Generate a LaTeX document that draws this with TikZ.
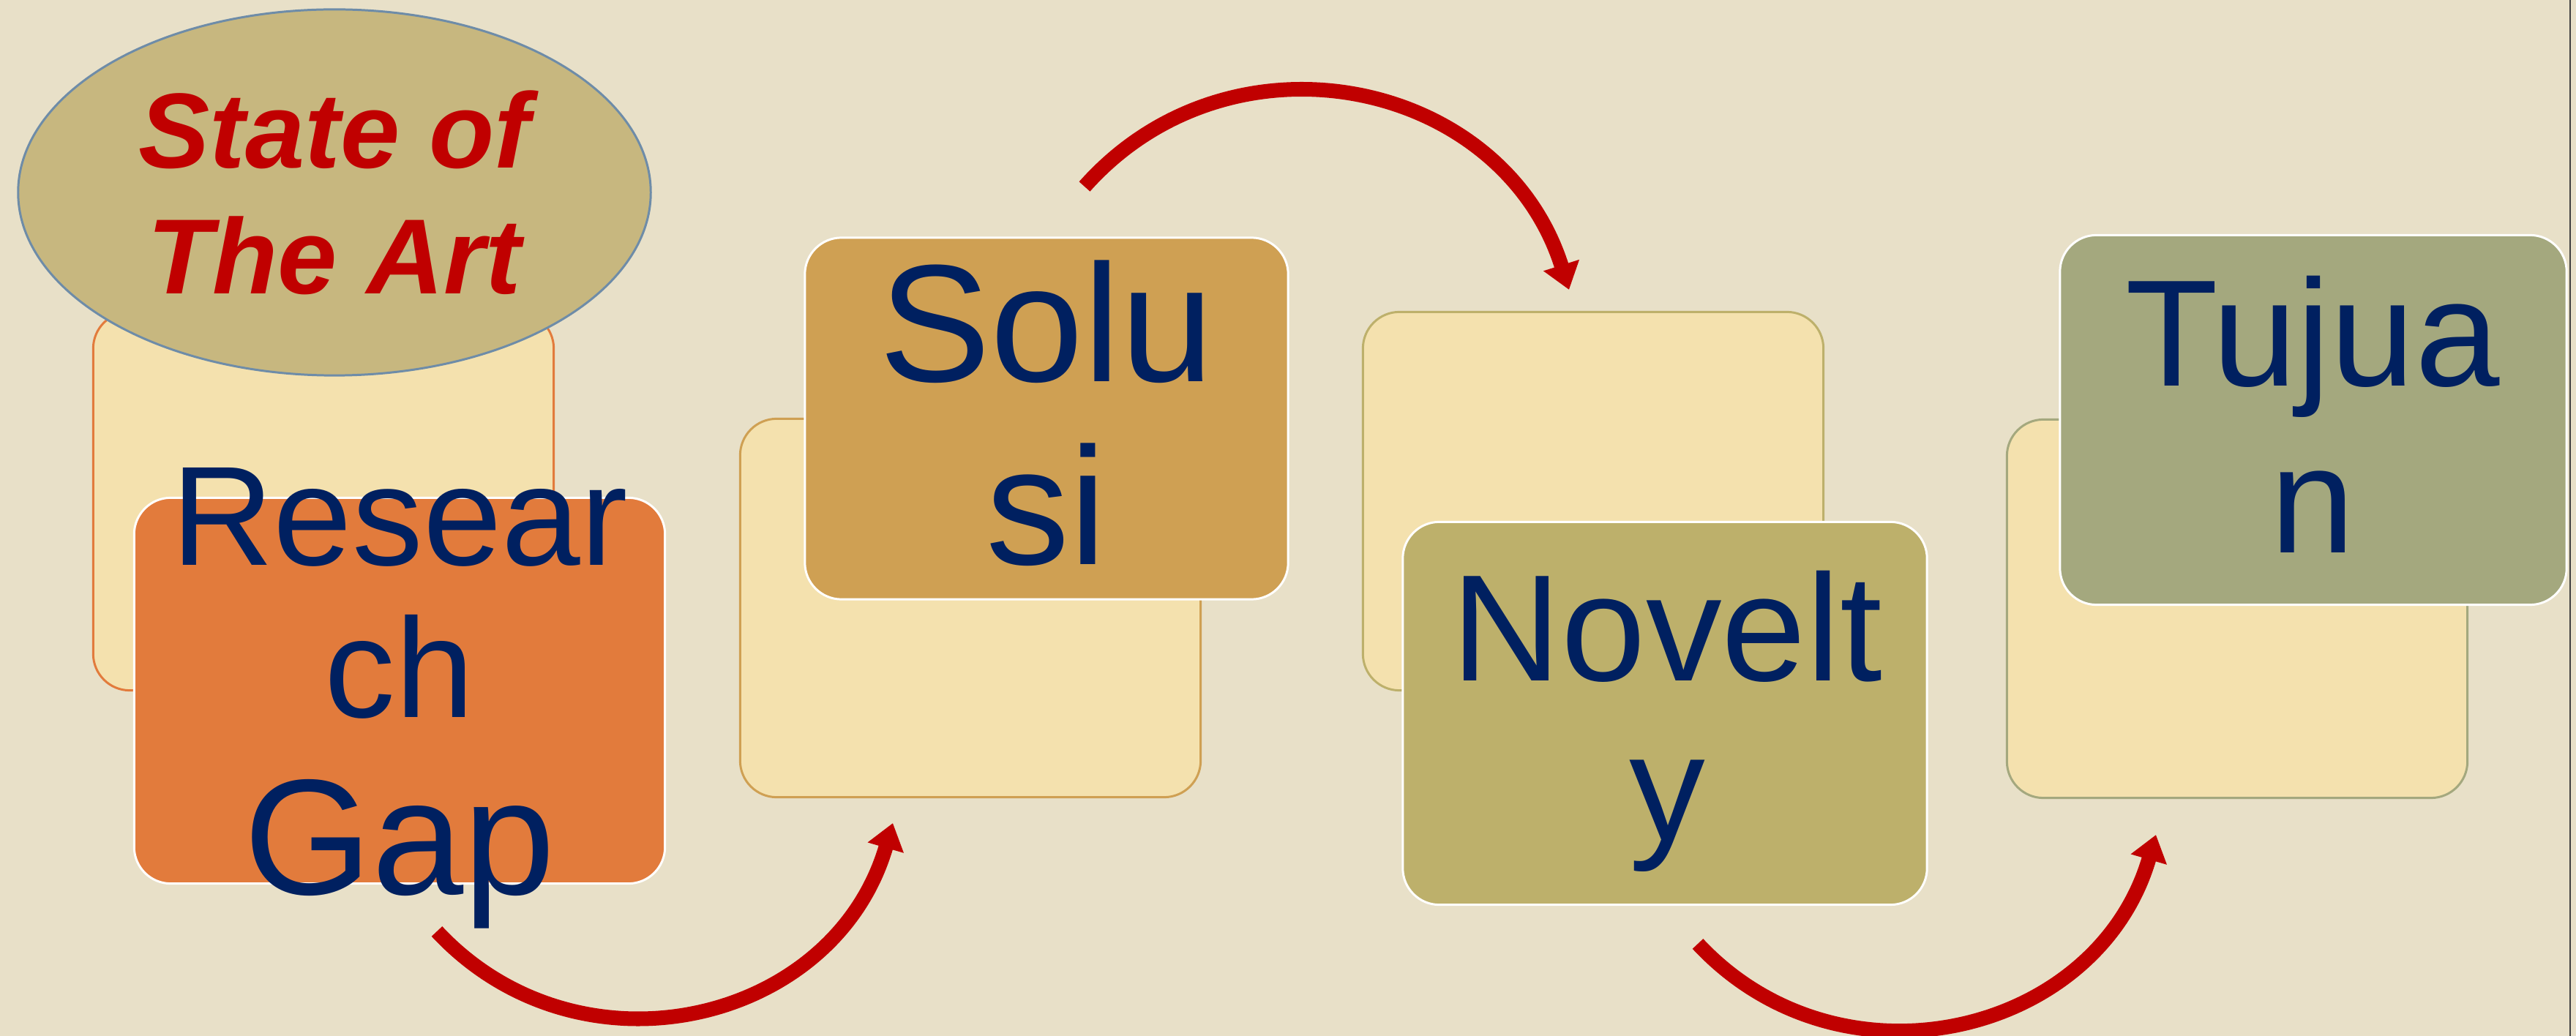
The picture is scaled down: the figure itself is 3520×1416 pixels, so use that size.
\documentclass[tikz,border=0pt]{standalone}
\usepackage{fontspec}
\setmainfont{Liberation Sans}
\usetikzlibrary{arrows.meta,shapes.geometric}

\definecolor{paper}{HTML}{E8E0C8}
\definecolor{wheat}{HTML}{F4E1AE}
\definecolor{gaporange}{HTML}{E27B3C}
\definecolor{soltan}{HTML}{CFA053}
\definecolor{novolive}{HTML}{BDB06B}
\definecolor{tujsage}{HTML}{A4A87E}
\definecolor{ovalfill}{HTML}{C7B77F}
\definecolor{ovalline}{HTML}{6E8CA8}
\definecolor{arrowred}{HTML}{C00000}
\definecolor{inknavy}{HTML}{002060}
\definecolor{edgegrey}{HTML}{404040}

\begin{document}
\begin{tikzpicture}[
x=0.01cm, y=0.01cm,
backbox/.style={draw=#1, line width=0.85pt, rounded corners=0.5cm, fill=wheat,
  minimum width=6.29cm, minimum height=5.17cm, inner sep=0pt},
frontbox/.style={draw=white, line width=0.85pt, rounded corners=0.5cm, fill=#1, inner sep=0pt},
boxtext/.style={text=inknavy, align=center, inner sep=0pt, anchor=north},
arr/.style={-{Triangle[width=4.9mm,length=3.5mm]}, line width=2mm, draw=arrowred}
]
% background
\fill[paper] (0,0) rectangle (3520,-1416);
\useasboundingbox (0,0) rectangle (3520,-1416);
\draw[edgegrey, line width=0.6pt] (3512,0) -- (3512,-1416);

% back cards
\node[backbox=gaporange] (rgback) at (442,-685) {};
\node[backbox=soltan] (soback) at (1326,-831) {};
\node[backbox=novolive] (noback) at (2177,-685) {};
\node[backbox=tujsage] (tuback) at (3057,-832) {};

% state of the art
\node[ellipse, draw=ovalline, line width=0.85pt, fill=ovalfill, minimum width=8.64cm,
  minimum height=5cm, inner sep=0pt, align=center, text=arrowred,
  font=\fontsize{41.5}{49}\selectfont\bfseries\itshape] (sota) at (457,-263) {State of\\The Art};

% front cards
\node[frontbox=gaporange, minimum width=7.25cm, minimum height=5.27cm] (rgfront) at (546,-944) {};
\node[frontbox=soltan, minimum width=6.6cm, minimum height=4.94cm] (sofront) at (1430,-572) {};
\node[frontbox=novolive, minimum width=7.16cm, minimum height=5.23cm] (nofront) at (2275,-975) {};
\node[frontbox=tujsage, minimum width=6.92cm, minimum height=5.05cm] (tufront) at (3161,-574) {};

% labels
\node[boxtext, font=\fontsize{55}{59}\selectfont] (rgtext) at (546,-639)
  {Resear\\ch\\[10pt]{\fontsize{64}{69}\selectfont Gap}};
\node[boxtext, font=\fontsize{65}{71}\selectfont] (sotext) at (1430,-355) {Solu\\si};
\node[boxtext, font=\fontsize{59}{62}\selectfont] (notext) at (2278,-779) {Novelt\\y};
\node[boxtext, font=\fontsize{59}{65}\selectfont] (tutext) at (3160,-376) {Tujua\\n};

% flow arrows
\coordinate (a1s) at (597,-1273);
\coordinate (a1e) at (1220,-1125);
\coordinate (a2s) at (1482,-255);
\coordinate (a2e) at (2144,-396);
\coordinate (a3s) at (2320,-1290);
\coordinate (a3e) at (2946,-1141);

\draw[arr] (a1s) .. controls +(313:2.86cm) and +(253.8:2.86cm) .. (a1e);
\draw[arr] (a2s) .. controls +(48.4:3.02cm) and +(107.5:3.02cm) .. (a2e);
\draw[arr] (a3s) .. controls +(313:2.86cm) and +(253.8:2.86cm) .. (a3e);
\end{tikzpicture}
\end{document}
